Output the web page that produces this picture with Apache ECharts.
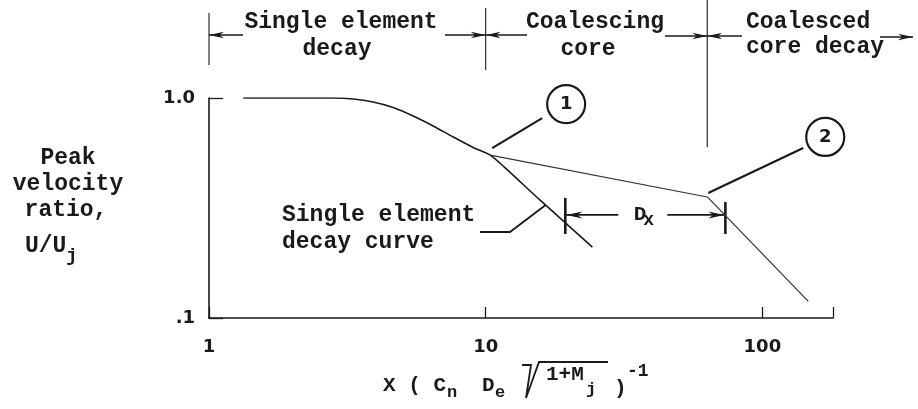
<!DOCTYPE html>
<html>
<head>
<meta charset="utf-8">
<script src="https://cdn.jsdelivr.net/npm/echarts@6/dist/echarts.min.js"></script>
<style>
  html, body { margin: 0; padding: 0; background: #fff; }
  #chart { width: 918px; height: 409px; }
</style>
</head>
<body>
<div id="chart"></div>
<script>
// Peak velocity ratio against normalized axial distance, log-log.
const xTickValues = [1, 10, 100];
const yTickValues = [0.1, 1.0];

// Single element decay curve
const singleElementX = [1.33, 2.81, 3.32, 3.92, 4.63, 5.47, 6.46, 7.63, 9.01, 10.38, 11.76, 15.7, 24.3];
const singleElementY = [1.0, 1.0, 0.99, 0.959, 0.905, 0.828, 0.746, 0.665, 0.596, 0.55, 0.481, 0.344, 0.21];

// Coalescing core (from point 1 to point 2)
const coalescingX = [10.38, 63.2];
const coalescingY = [0.55, 0.355];

// Coalesced core decay (from point 2 onward)
const coalescedX = [63.2, 67.6, 146.6];
const coalescedY = [0.355, 0.326, 0.119];

// Region boundaries along X and their captions
const regionBounds = [1, 10, 63.2];
const regionCaptions = [['Single element', 'decay'], ['Coalescing', 'core'], ['Coalesced', 'core decay']];

// D_x span and the level it is drawn at
const dxBounds = [19.4, 73.5];
const dxLevel = 0.294;

// Point where the "Single element decay curve" leader touches the curve
const curveLabelPoint = [16.2, 0.333];

const INK = '#1a1a1a';
const MONO = '"Liberation Mono", "DejaVu Sans Mono", monospace';
const SANS = '"DejaVu Sans", "Liberation Sans", sans-serif';

const pairs = (xs, ys) => xs.map((x, i) => [x, ys[i]]);

const chart = echarts.init(document.getElementById('chart'), null, { renderer: 'canvas' });

chart.setOption({
  animation: false,
  backgroundColor: '#fff',
  grid: { left: 209, top: 98, width: 624, height: 220, containLabel: false },
  xAxis: {
    type: 'log', logBase: 10, min: 1, max: 180,
    axisLine: { lineStyle: { color: INK, width: 1.6 } },
    axisTick: { inside: true, length: 11, lineStyle: { color: INK, width: 1.3 } },
    minorTick: { show: false },
    splitLine: { show: false },
    axisLabel: {
      margin: 20, fontFamily: SANS, fontWeight: 'bold', fontSize: 18, color: INK,
      formatter: v => {
        const r = Math.round(v);
        return xTickValues.indexOf(r) >= 0 ? String(r) : '';
      }
    }
  },
  yAxis: {
    type: 'log', logBase: 10, min: 0.1, max: 1,
    axisLine: { lineStyle: { color: INK, width: 1.6 } },
    axisTick: { inside: true, length: 14, lineStyle: { color: INK, width: 1.3 } },
    minorTick: { show: false },
    splitLine: { show: false },
    axisLabel: {
      margin: 14, fontFamily: SANS, fontWeight: 'bold', fontSize: 18, color: INK,
      padding: [8, 0, 0, 0],
      formatter: v => (v > 0.5 ? '1.0' : '.1')
    }
  },
  series: [
    { type: 'line', data: pairs(singleElementX, singleElementY), smooth: 0.3, symbol: 'none',
      lineStyle: { color: INK, width: 1.6 } },
    { type: 'line', data: pairs(coalescingX, coalescingY), symbol: 'none',
      lineStyle: { color: '#333', width: 1.1 } },
    { type: 'line', data: pairs(coalescedX, coalescedY), symbol: 'none',
      lineStyle: { color: '#333', width: 1.2 } }
  ]
});

// ---- annotations ----
const toPx = (x, y) => chart.convertToPixel({ gridIndex: 0 }, [x, y]);
const g = [];

function seg(x1, y1, x2, y2, w) {
  g.push({ type: 'line', silent: true, shape: { x1, y1, x2, y2 },
    style: { stroke: INK, lineWidth: w || 1.2 } });
}
function head(x, y, dir, len, half) {
  len = len || 15; half = half || 3.2;
  g.push({ type: 'polygon', silent: true,
    shape: { points: [[x, y], [x - dir * len, y - half], [x - dir * len * 0.7, y], [x - dir * len, y + half]] },
    style: { fill: INK } });
}
function label(str, x, y, size, align, font) {
  g.push({ type: 'text', silent: true, x, y,
    style: { text: str, fill: INK, font: 'bold ' + size + 'px ' + (font || MONO),
      align: align || 'left', verticalAlign: 'middle' } });
}

// Region dividers and span arrows across the top
const xb = regionBounds.map(v => toPx(v, 1)[0]);
const divTop = [13, 8, 0];
const divBottom = [65, 70, 147];
xb.forEach((x, i) => seg(x, divTop[i], x, divBottom[i], 1.1));

const ay = 35;
head(xb[0], ay, -1); seg(xb[0], ay, 243, ay, 1.6);
seg(445, ay, xb[1], ay, 1.6); head(xb[1], ay, 1);
head(xb[1], ay, -1); seg(xb[1], ay, 527, ay, 1.6);
seg(665, ay + 1, xb[2], ay + 1, 1.6); head(xb[2], ay + 1, 1);
head(xb[2], ay + 1, -1); seg(xb[2], ay + 1, 742, ay + 1, 1.6);
seg(880, ay + 2, 913, ay + 2, 1.6); head(913, ay + 2, 1);

label(regionCaptions[0][0], 341, 22, 23, 'center');
label(regionCaptions[0][1], 337, 49, 23, 'center');
label(regionCaptions[1][0], 595, 22, 23, 'center');
label(regionCaptions[1][1], 588, 49, 23, 'center');
label(regionCaptions[2][0], 746, 22, 23, 'left');
label(regionCaptions[2][1], 746, 47, 23, 'left');

// Y axis title
label('Peak', 68, 158, 23, 'center');
label('velocity', 68, 184, 23, 'center');
label('ratio,', 66, 210, 23, 'center');
label('U/U', 25, 246, 23, 'left');
label('j', 66, 256, 19, 'left');

// X axis title: X ( Cn De sqrt(1+Mj) )^-1
const tx = 383, ty = 386;
label('X ( C', tx, ty, 21, 'left');
label('n', tx + 64, ty + 7, 17, 'left');
label('D', tx + 99, ty, 21, 'left');
label('e', tx + 112, ty + 7, 17, 'left');
g.push({ type: 'polyline', silent: true,
  shape: { points: [[tx + 139, ty - 21], [tx + 148, ty - 21], [tx + 143, ty + 12], [tx + 156, ty - 24], [tx + 225, ty - 24]] },
  style: { stroke: INK, lineWidth: 1.8, fill: null } });
label('1+M', tx + 163, ty - 11, 21, 'left');
label('j', tx + 203, ty + 4, 17, 'left');
label(')', tx + 231, ty + 3, 21, 'left');
label('-1', tx + 244, ty - 15, 18, 'left');

// Point markers 1 and 2 with leaders
function callout(pt, startOff, endOff, circleOff, txt) {
  const p = toPx(pt[0], pt[1]);
  seg(p[0] + startOff[0], p[1] + startOff[1], p[0] + endOff[0], p[1] + endOff[1], 2.2);
  const cx = p[0] + circleOff[0], cy = p[1] + circleOff[1];
  g.push({ type: 'circle', silent: true, shape: { cx, cy, r: 19 },
    style: { stroke: INK, lineWidth: 2.2, fill: '#fff' } });
  label(txt, cx, cy, 18, 'center', SANS);
}
callout([coalescingX[0], coalescingY[0]], [2, -7], [52, -37], [76, -51], '1');
callout([coalescedX[0], coalescedY[0]], [1, -4], [96, -49], [118, -60], '2');

// "Single element decay curve" label with leader to the curve
const cp = toPx(curveLabelPoint[0], curveLabelPoint[1]);
label('Single element', 282, 215, 23, 'left');
label('decay curve', 282, 242, 23, 'left');
g.push({ type: 'polyline', silent: true,
  shape: { points: [[480, 232], [510, 232], [cp[0] + 2, cp[1] + 2]] },
  style: { stroke: INK, lineWidth: 1.8, fill: null } });

// D_x span
const d0 = toPx(dxBounds[0], dxLevel), d1 = toPx(dxBounds[1], dxLevel);
const dy = d0[1];
seg(d0[0], dy - 17, d0[0], dy + 19, 2.6);
seg(d1[0], dy - 13, d1[0], dy + 19, 2.6);
const mid = (d0[0] + d1[0]) / 2;
seg(d0[0], dy, mid - 27, dy, 1.8); head(d0[0] + 1, dy, -1, 16, 3.5);
seg(mid + 22, dy, d1[0], dy, 1.8); head(d1[0] - 1, dy, 1, 16, 3.5);
label('D', mid + 1, dy, 21, 'right');
label('x', mid - 2, dy + 6, 18, 'left');

chart.setOption({ graphic: g });
</script>
</body>
</html>
